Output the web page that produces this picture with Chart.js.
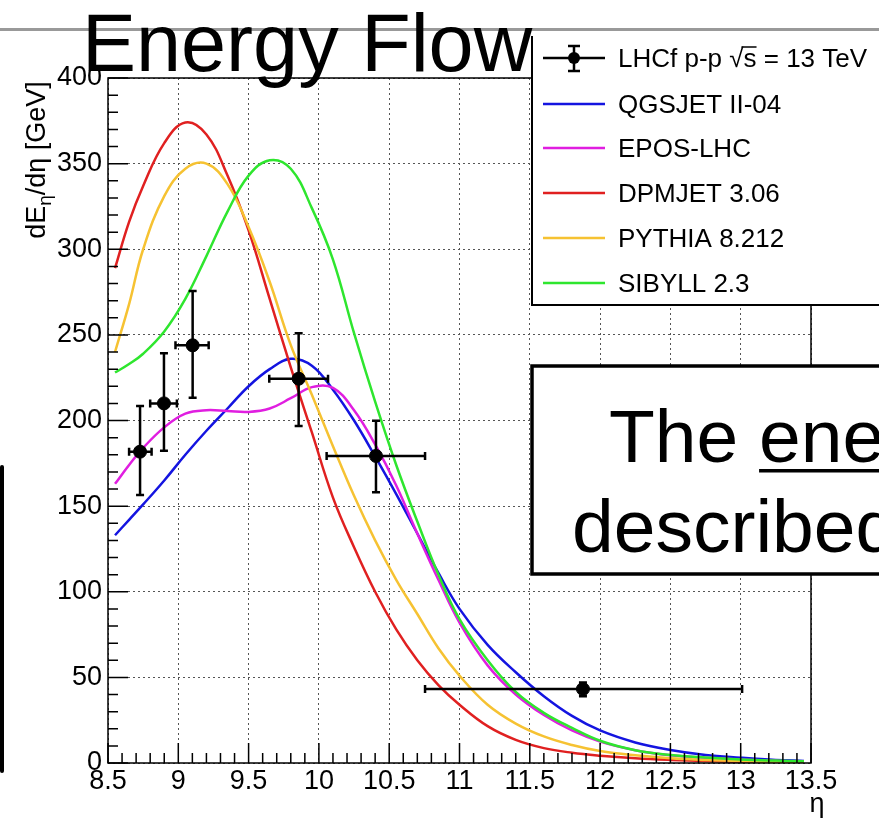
<!DOCTYPE html>
<html>
<head>
<meta charset="utf-8">
<script src="https://cdn.jsdelivr.net/npm/chart.js@4.4.0/dist/chart.umd.min.js"></script>
<style>
  html, body { margin: 0; padding: 0; background: #fff; overflow: hidden; }
  canvas { display: block; }
</style>
</head>
<body>
<canvas id="c" width="879" height="820"></canvas>
<script>
// model curves (GeV per unit eta)
var etaGrid = [8.55, 8.65, 8.75, 8.9, 9.05, 9.2, 9.35, 9.5, 9.65, 9.8, 9.95, 10.1, 10.25, 10.4, 10.55,
               10.7, 10.85, 11.0, 11.2, 11.4, 11.6, 11.8, 12.0, 12.25, 12.5, 12.75, 13.0, 13.25, 13.45];
var qgsjet = [133, 142, 151, 165, 180, 194, 207, 220, 230, 236, 232, 218, 200, 179, 157,
              134, 111, 90, 69, 53, 39, 27.5, 19, 12, 7.6, 4.7, 3.1, 1.8, 1.2];
var eposLhc = [163, 174, 184, 196, 204, 206, 205.5, 205, 207, 213, 219.5, 219, 206, 186, 162,
               134, 107, 82, 57, 40, 28, 19, 12.5, 7.5, 4.5, 3, 2, 1.3, 0.9];
var dpmjet = [289, 316, 337, 362, 374, 367, 343, 311, 271, 231, 193, 155, 126, 100, 78,
              60, 45.5, 34, 21.5, 13.5, 8.7, 6, 4.3, 2.8, 1.8, 1.1, 0.7, 0.4, 0.3];
var pythia = [240, 268, 300, 331, 347, 350, 338, 313, 281, 244, 215, 185, 156, 130, 107,
              87, 67, 51, 34, 23, 15.5, 10.5, 7, 4.5, 2.8, 1.8, 1.1, 0.7, 0.5];
var sibyll = [228, 233, 239, 252, 271, 296, 322, 343, 352, 347, 324, 294, 251, 211, 174,
              141, 110, 84, 60, 41.5, 29.3, 20.5, 13, 7.5, 4.7, 3.2, 2.1, 1.4, 1.0];

// LHCf measurement with error bars
var dataEta = [8.728, 8.898, 9.102, 9.856, 10.406, 11.878];
var dataVal = [181.8, 210, 243.9, 224.4, 179.3, 43.2];
var etaLo = [8.65, 8.80, 8.98, 9.647, 10.055, 10.755];
var etaHi = [8.81, 8.99, 9.216, 10.065, 10.755, 13.01];
var valLo = [156.5, 182.4, 213.3, 196.8, 158.1, 39];
var valHi = [208.5, 239.2, 275.6, 250.9, 199.9, 47];

var modelNames = ['QGSJET II-04', 'EPOS-LHC', 'DPMJET 3.06', 'PYTHIA 8.212', 'SIBYLL 2.3'];
var modelColors = ['#1414e0', '#e01ee0', '#e02020', '#f6c232', '#2ee62e'];
var modelValues = [qgsjet, eposLhc, dpmjet, pythia, sibyll];

var FONT = "'Liberation Sans', Arial, sans-serif";

function toPoints(xs, ys) {
    var out = [];
    for (var i = 0; i < xs.length; i++) out.push({x: xs[i], y: ys[i]});
    return out;
}

var datasets = [{
    label: 'LHCf p-p',
    data: toPoints(dataEta, dataVal),
    backgroundColor: '#000',
    borderColor: '#000',
    pointRadius: 6.5,
    showLine: false
}];
// draw order: first dataset ends up on top
for (var m = modelNames.length - 1; m >= 0; m--) {
    datasets.push({
        label: modelNames[m],
        data: toPoints(etaGrid, modelValues[m]),
        borderColor: modelColors[m],
        borderWidth: 2.5,
        pointRadius: 0,
        showLine: true,
        tension: 0.4
    });
}

var rootStyle = {
    id: 'rootStyle',
    afterDatasetsDraw: function(chart) {
        var ctx = chart.ctx, xs = chart.scales.x, ys = chart.scales.y, a = chart.chartArea;
        ctx.save();
        ctx.strokeStyle = '#000';
        // error bars
        ctx.lineWidth = 2.5;
        for (var i = 0; i < dataEta.length; i++) {
            var px = xs.getPixelForValue(dataEta[i]), py = ys.getPixelForValue(dataVal[i]);
            var x1 = xs.getPixelForValue(etaLo[i]), x2 = xs.getPixelForValue(etaHi[i]);
            var y1 = ys.getPixelForValue(valLo[i]), y2 = ys.getPixelForValue(valHi[i]);
            ctx.beginPath();
            ctx.moveTo(x1, py); ctx.lineTo(x2, py);
            ctx.moveTo(x1, py - 4); ctx.lineTo(x1, py + 4);
            ctx.moveTo(x2, py - 4); ctx.lineTo(x2, py + 4);
            ctx.moveTo(px, y1); ctx.lineTo(px, y2);
            ctx.moveTo(px - 4, y1); ctx.lineTo(px + 4, y1);
            ctx.moveTo(px - 4, y2); ctx.lineTo(px + 4, y2);
            ctx.stroke();
        }
        // ticks inside the frame
        ctx.lineWidth = 1.5;
        ctx.beginPath();
        for (var k = 0; k <= 50; k++) {
            var tx = xs.getPixelForValue(8.5 + k * 0.1);
            var len = (k % 5 === 0) ? 20 : 10;
            ctx.moveTo(tx, a.bottom); ctx.lineTo(tx, a.bottom - len);
        }
        for (var j = 0; j <= 40; j++) {
            var ty = ys.getPixelForValue(j * 10);
            var l2 = (j % 5 === 0) ? 20 : 10;
            ctx.moveTo(a.left, ty); ctx.lineTo(a.left + l2, ty);
        }
        ctx.stroke();
        ctx.strokeRect(a.left, a.top, a.right - a.left, a.bottom - a.top);
        ctx.restore();
    },
    afterDraw: function(chart) {
        var ctx = chart.ctx;
        ctx.save();
        // slide rule line and title
        ctx.fillStyle = '#999';
        ctx.fillRect(0, 28, 879, 3);
        ctx.fillStyle = '#000';
        ctx.font = '81px ' + FONT;
        ctx.textBaseline = 'alphabetic';
        ctx.fillText('Energy Flow', 82, 71);

        // legend
        ctx.fillStyle = '#fff';
        ctx.fillRect(532, 34, 360, 271);
        ctx.strokeStyle = '#000';
        ctx.lineWidth = 2;
        ctx.beginPath();
        ctx.moveTo(532, 36); ctx.lineTo(532, 305); ctx.lineTo(880, 305);
        ctx.stroke();
        var rows = [58, 104, 148, 193, 238, 283];
        ctx.font = '26px ' + FONT;
        ctx.fillStyle = '#000';
        // first row: data marker
        ctx.lineWidth = 2.5;
        ctx.beginPath();
        ctx.moveTo(543, rows[0]); ctx.lineTo(605, rows[0]);
        ctx.moveTo(574, rows[0] - 12); ctx.lineTo(574, rows[0] + 13);
        ctx.moveTo(568, rows[0] - 12); ctx.lineTo(580, rows[0] - 12);
        ctx.moveTo(568, rows[0] + 13); ctx.lineTo(580, rows[0] + 13);
        ctx.stroke();
        ctx.beginPath(); ctx.arc(574, rows[0], 6, 0, Math.PI * 2); ctx.fill();
        var pre = 'LHCf p-p \u221A';
        ctx.fillText(pre + 's = 13 TeV', 618, rows[0] + 9);
        var w0 = ctx.measureText(pre).width, ws = ctx.measureText('s').width;
        ctx.lineWidth = 1.5;
        ctx.beginPath();
        ctx.moveTo(618 + w0 - 2, rows[0] - 11); ctx.lineTo(618 + w0 + ws, rows[0] - 11);
        ctx.stroke();
        for (var i = 0; i < modelNames.length; i++) {
            var ry = rows[i + 1];
            ctx.strokeStyle = modelColors[i];
            ctx.lineWidth = 2.5;
            ctx.beginPath(); ctx.moveTo(543, ry); ctx.lineTo(605, ry); ctx.stroke();
            ctx.fillText(modelNames[i], 618, ry + 9);
        }

        // axis titles
        ctx.save();
        ctx.translate(45, 160);
        ctx.rotate(-Math.PI / 2);
        var big = '27px ' + FONT, small = '19px ' + FONT;
        ctx.font = big; var wa = ctx.measureText('dE').width, wc = ctx.measureText('/d\u03B7 [GeV]').width;
        ctx.font = small; var wb = ctx.measureText('\u03B7').width;
        var x0 = -(wa + wb + wc) / 2;
        ctx.font = big; ctx.fillText('dE', x0, 0);
        ctx.font = small; ctx.fillText('\u03B7', x0 + wa, 6);
        ctx.font = big; ctx.fillText('/d\u03B7 [GeV]', x0 + wa + wb, 0);
        ctx.restore();
        ctx.font = '27px ' + FONT;
        ctx.textAlign = 'center';
        ctx.fillText('\u03B7', 817, 812);
        ctx.textAlign = 'left';

        // comment box on the right
        ctx.fillStyle = '#fff';
        ctx.fillRect(532, 366, 400, 208);
        ctx.strokeStyle = '#000';
        ctx.lineWidth = 3.5;
        ctx.strokeRect(532, 366, 400, 208);
        ctx.fillStyle = '#000';
        ctx.font = '75px ' + FONT;
        var head = 'The ', under = 'energy flow';
        ctx.fillText(head + under + ' is not', 609, 462);
        var wh = ctx.measureText(head).width, wu = ctx.measureText(under).width;
        ctx.fillRect(609 + wh, 469, wu, 3.5);
        ctx.fillText('described by models', 572, 552);

        // edge of a box on the left
        ctx.lineWidth = 4;
        ctx.lineCap = 'round';
        ctx.beginPath(); ctx.moveTo(2, 467); ctx.lineTo(2, 771); ctx.stroke();
        ctx.restore();
    }
};

var tickFont = {family: FONT, size: 27};
new Chart(document.getElementById('c'), {
    type: 'scatter',
    data: {datasets: datasets},
    options: {
        responsive: false,
        animation: false,
        devicePixelRatio: 1,
        layout: {padding: {left: 0, top: 78, right: 68, bottom: 0}},
        plugins: {legend: {display: false}, tooltip: {enabled: false}},
        scales: {
            x: {
                type: 'linear', min: 8.5, max: 13.5,
                ticks: {
                    stepSize: 0.5, padding: 2, color: '#000', font: tickFont,
                    maxRotation: 0, autoSkip: false,
                    callback: function(v) { return Number(v.toFixed(1)).toString(); }
                },
                grid: {color: '#555', lineWidth: 1, drawTicks: false},
                border: {display: false, dash: [2, 3]},
                afterFit: function(s) { s.height = 57; }
            },
            y: {
                min: 0, max: 400,
                ticks: {stepSize: 50, padding: 6, color: '#000', font: tickFont},
                grid: {color: '#555', lineWidth: 1, drawTicks: false},
                border: {display: false, dash: [2, 3]},
                afterFit: function(s) { s.width = 108; }
            }
        }
    },
    plugins: [rootStyle]
});
</script>
</body>
</html>
